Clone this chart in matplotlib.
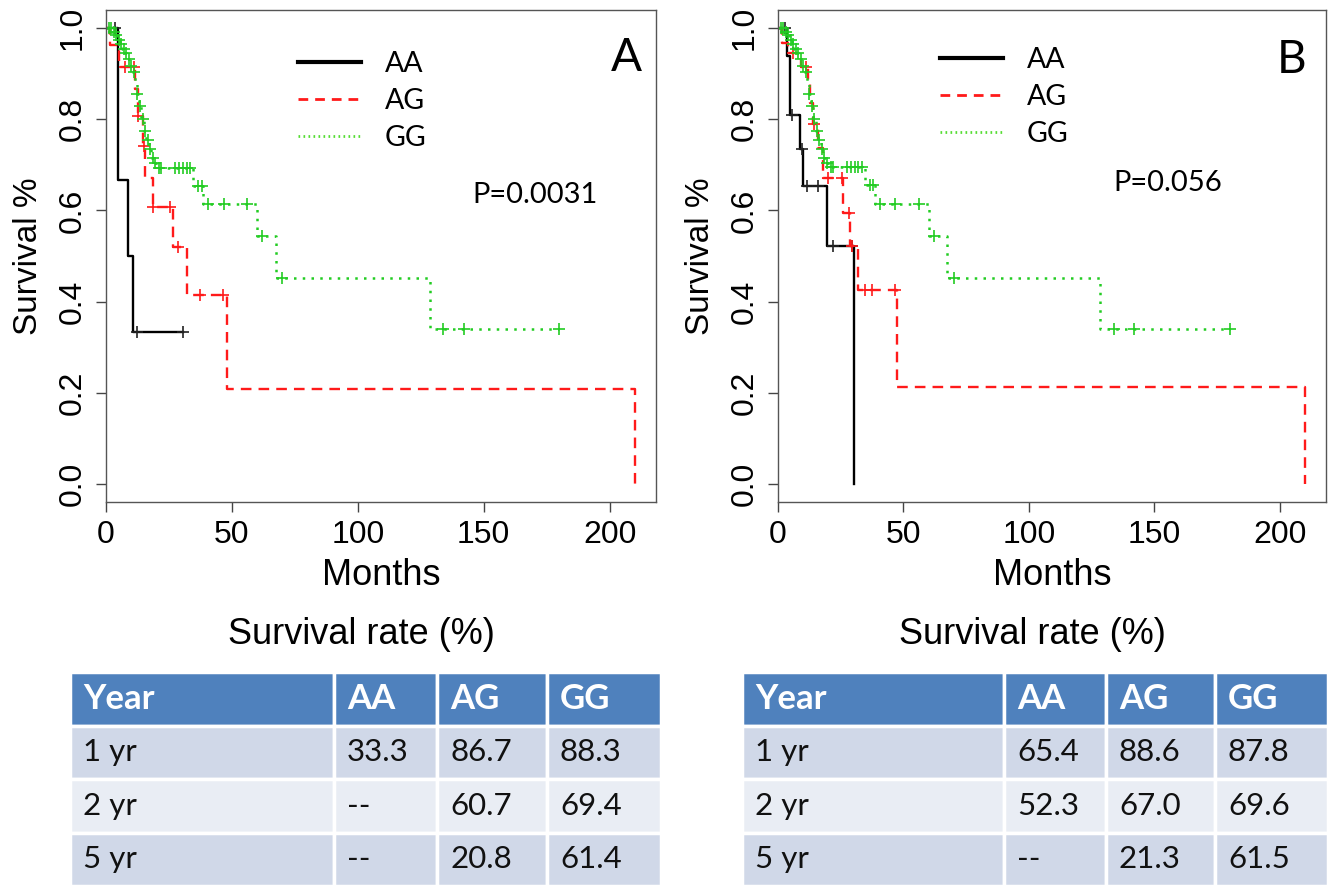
import matplotlib
matplotlib.use("Agg")
import matplotlib.pyplot as plt
from matplotlib.lines import Line2D

# ---- values ----
months_ticks = [0, 50, 100, 150, 200]
surv_ticks = [0.0, 0.2, 0.4, 0.6, 0.8, 1.0]
genotypes = ["AA", "AG", "GG"]

# Panel A: Kaplan-Meier steps (time in months, survival from that time on)
a_aa_t = [0, 4.8, 8.8, 10.8, 30.5]
a_aa_s = [1.0, 0.667, 0.5, 0.333, 0.333]
a_aa_ct = [3.5, 12.3, 30.5]
a_aa_cs = [1.0, 0.333, 0.333]

a_ag_t = [0, 1.6, 5.0, 11.5, 12.7, 14.5, 15.5, 18.7, 26.7, 32, 48, 210]
a_ag_s = [1.0, 0.963, 0.914, 0.867, 0.808, 0.742, 0.672, 0.607, 0.52, 0.415, 0.208, 0.0]
a_ag_ct = [7.6, 11.0, 12.7, 15.0, 18.7, 25.5, 28.7, 37.5, 46.6]
a_ag_cs = [0.914, 0.914, 0.808, 0.742, 0.607, 0.607, 0.52, 0.415, 0.415]

a_gg_t = [0, 2.5, 3.5, 4.5, 5.5, 6.5, 7.5, 8.5, 9.5, 10.5, 11.5, 12.2, 13, 14, 15, 16, 17,
          18, 19, 20, 34.5, 38.7, 60, 67.5, 128.5, 180]
a_gg_s = [1.0, 0.992, 0.985, 0.975, 0.965, 0.955, 0.945, 0.932, 0.918, 0.904, 0.883, 0.855,
          0.83, 0.80, 0.775, 0.755, 0.735, 0.715, 0.705, 0.694, 0.654, 0.614, 0.545, 0.452,
          0.34, 0.34]
a_gg_ct = [1, 2, 3, 4, 5, 6, 7, 8, 9, 10, 11, 12.5, 13.5, 14.5, 15.5, 16.5, 17.5, 18.5, 19.5,
           21, 22, 27.5, 29, 30.5, 32, 33.5, 36.5, 38, 40.5, 46.7, 56, 62, 70, 134, 142, 180]
a_gg_cs = [1.0, 1.0, 0.992, 0.985, 0.975, 0.965, 0.955, 0.945, 0.932, 0.918, 0.904, 0.855,
           0.83, 0.80, 0.775, 0.755, 0.735, 0.715, 0.705, 0.694, 0.694, 0.694, 0.694, 0.694,
           0.694, 0.694, 0.654, 0.654, 0.614, 0.614, 0.614, 0.545, 0.452, 0.34, 0.34, 0.34]

# Panel B
b_aa_t = [0, 3.6, 4.8, 8.8, 10.1, 19.4, 30.4]
b_aa_s = [1.0, 0.94, 0.81, 0.735, 0.654, 0.523, 0.0]
b_aa_ct = [2.8, 5.4, 9.5, 11.4, 16.0, 22.0, 29.3]
b_aa_cs = [1.0, 0.81, 0.735, 0.654, 0.654, 0.523, 0.523]

b_ag_t = [0, 1.5, 4.1, 9.0, 12.0, 12.7, 14, 16, 18, 26, 28.5, 32, 47.3, 210]
b_ag_s = [1.0, 0.967, 0.945, 0.915, 0.886, 0.835, 0.79, 0.736, 0.672, 0.595, 0.523, 0.425,
          0.213, 0.0]
b_ag_ct = [6.0, 11.0, 14.5, 20.0, 25.4, 28.3, 29.3, 34.7, 37.3, 46.6]
b_ag_cs = [0.945, 0.915, 0.79, 0.672, 0.672, 0.595, 0.523, 0.425, 0.425, 0.425]

b_gg_t = [0, 2.5, 3.5, 4.5, 5.5, 6.5, 7.5, 8.5, 9.5, 10.5, 11.5, 12.2, 13, 14, 15, 16, 17,
          18, 19, 20, 34.5, 38.7, 60, 67.5, 128.5, 180]
b_gg_s = [1.0, 0.992, 0.985, 0.975, 0.965, 0.955, 0.945, 0.932, 0.918, 0.904, 0.878, 0.855,
          0.83, 0.80, 0.775, 0.755, 0.735, 0.715, 0.705, 0.696, 0.655, 0.615, 0.545, 0.452,
          0.34, 0.34]
b_gg_ct = a_gg_ct
b_gg_cs = [1.0, 1.0, 0.992, 0.985, 0.975, 0.965, 0.955, 0.945, 0.932, 0.918, 0.904, 0.855,
           0.83, 0.80, 0.775, 0.755, 0.735, 0.715, 0.705, 0.696, 0.696, 0.696, 0.696, 0.696,
           0.696, 0.696, 0.655, 0.655, 0.615, 0.615, 0.615, 0.545, 0.452, 0.34, 0.34, 0.34]

p_values = ["P=0.0031", "P=0.056"]
panel_letters = ["A", "B"]

# survival-rate tables
table_header = ["Year", "AA", "AG", "GG"]
table_years = ["1 yr", "2 yr", "5 yr"]
a_rate_aa = ["33.3", "--", "--"]
a_rate_ag = ["86.7", "60.7", "20.8"]
a_rate_gg = ["88.3", "69.4", "61.4"]
b_rate_aa = ["65.4", "52.3", "--"]
b_rate_ag = ["88.6", "67.0", "21.3"]
b_rate_gg = ["87.8", "69.6", "61.5"]

# ---- styles ----
W, H = 1336, 886
R_FONT = "Liberation Sans"
C_FONT = "Lato"
styles = {
    "AA": dict(color="black", lw=1.7, ls="-"),
    "AG": dict(color="#ff1a1a", lw=1.7, ls=(0, (4.5, 3))),
    "GG": dict(color="#22cc22", lw=1.8, ls=(0, (1, 2.5))),
}
cens_color = {"AA": "#222222", "AG": "#ff1a1a", "GG": "#22cc22"}


def px_rect(left, right, top, bottom):
    return [left / W, 1 - bottom / H, (right - left) / W, (bottom - top) / H]


def draw_km(ax, curves, letter, pval, leg_xy, letter_xy, p_xy):
    for name, (t, s, ct, cs) in curves.items():
        ax.step(t, s, where="post", **styles[name])
        ax.plot(ct, cs, "+", color=cens_color[name], ms=9, mew=1.2, ls="none")
    ax.set_xlim(0, 218.4)
    ax.set_ylim(-0.04, 1.04)
    ax.set_xticks(months_ticks)
    ax.set_yticks(surv_ticks)
    ax.set_yticklabels([f"{v:.1f}" for v in surv_ticks], rotation=90, va="center")
    ax.tick_params(length=7, width=1, color="#444444", labelsize=23, pad=6)
    for lab in ax.get_xticklabels() + ax.get_yticklabels():
        lab.set_fontfamily(R_FONT)
    for sp in ax.spines.values():
        sp.set_color("#555555")
        sp.set_linewidth(1.0)
    ax.set_xlabel("Months", fontsize=26, family=R_FONT, labelpad=6)
    ax.set_ylabel("Survival %", fontsize=24, family=R_FONT, labelpad=10)

    handles = [
        Line2D([], [], color="black", lw=3),
        Line2D([], [], color="#ff1a1a", lw=2, ls=(0, (3.5, 2.5))),
        Line2D([], [], color="#55dd33", lw=2, ls=(0, (0.6, 1.2))),
    ]
    fig.legend(handles, genotypes, loc="upper left", frameon=False,
               bbox_to_anchor=(leg_xy[0] / W, 1 - leg_xy[1] / H),
               borderpad=0, borderaxespad=0, handlelength=2.2, handletextpad=0.85,
               labelspacing=0.38, prop=dict(family=C_FONT, size=20.5))
    fig.text(letter_xy[0] / W, 1 - letter_xy[1] / H, letter, fontsize=33, family=C_FONT,
             ha="center", va="center")
    fig.text(p_xy[0] / W, 1 - p_xy[1] / H, pval, fontsize=21, family=C_FONT,
             ha="center", va="center")


def draw_table(rect, rate_aa, rate_ag, rate_gg, title_x):
    tax = fig.add_axes(rect)
    tax.axis("off")
    body = [[y, a, b, c] for y, a, b, c in zip(table_years, rate_aa, rate_ag, rate_gg)]
    col_w = [0.447, 0.174, 0.186, 0.193]
    tab = tax.table(cellText=[table_header] + body, colWidths=col_w,
                    cellLoc="left", bbox=[0, 0, 1, 1])
    tab.auto_set_font_size(False)
    row_colors = ["#4f81bd", "#d0d8e8", "#e9edf4", "#d0d8e8"]
    tab_w_px = rect[2] * W
    for (r, c), cell in tab.get_celld().items():
        cell.set_facecolor(row_colors[r])
        cell.set_edgecolor("white")
        cell.set_linewidth(2.5)
        cell.PAD = 13 / (col_w[c] * tab_w_px)
        txt = cell.get_text()
        txt.set_fontfamily(C_FONT)
        if r == 0:
            txt.set_color("white")
            txt.set_fontweight("bold")
            txt.set_fontsize(25)
        else:
            txt.set_color("#111111")
            txt.set_fontsize(22.5)
    fig.text(title_x / W, 1 - 635 / H, "Survival rate (%)", fontsize=26, family=R_FONT,
             ha="center", va="center")


fig = plt.figure(figsize=(W / 100, H / 100), dpi=100)

ax_a = fig.add_axes(px_rect(106, 656, 10, 502))
draw_km(ax_a,
        {"AA": (a_aa_t, a_aa_s, a_aa_ct, a_aa_cs),
         "AG": (a_ag_t, a_ag_s, a_ag_ct, a_ag_cs),
         "GG": (a_gg_t, a_gg_s, a_gg_ct, a_gg_cs)},
        panel_letters[0], p_values[0], (298, 51), (626, 58), (535, 195))

ax_b = fig.add_axes(px_rect(778, 1326, 10, 502))
draw_km(ax_b,
        {"AA": (b_aa_t, b_aa_s, b_aa_ct, b_aa_cs),
         "AG": (b_ag_t, b_ag_s, b_ag_ct, b_ag_cs),
         "GG": (b_gg_t, b_gg_s, b_gg_ct, b_gg_cs)},
        panel_letters[1], p_values[1], (940, 47), (1292, 60), (1168, 183))

draw_table(px_rect(70, 661, 672, 886), a_rate_aa, a_rate_ag, a_rate_gg, 361)
draw_table(px_rect(742, 1328, 672, 886), b_rate_aa, b_rate_ag, b_rate_gg, 1032)

fig.savefig("out.png", dpi=100)
